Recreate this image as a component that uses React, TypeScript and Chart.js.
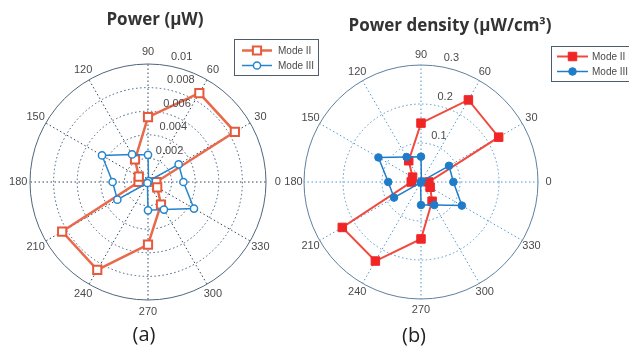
import React, { useEffect, useRef } from "react";
import { Chart, registerables } from "chart.js";

Chart.register(...registerables);

// Angle labels in the radar's clockwise order starting at the top (MATLAB polar: 0° right, CCW)
const ANGLE_LABELS = ["90", "60", "30", "0", "330", "300", "270", "240", "210", "180", "150", "120"];

// Panel (a) – Power (µW), values in the same order as ANGLE_LABELS
const POWER_MODE_II = [0.0055, 0.0087, 0.0085, 0.0007, 0.0009, 0.0022, 0.0053, 0.0086, 0.0084, 0.0008, 0.0009, 0.0022];
const POWER_MODE_III = [0.0023, 0.0001, 0.003, 0.003, 0.0045, 0.0027, 0.0024, 0.0001, 0.003, 0.003, 0.0045, 0.0027];
const POWER_TICKS = [0.002, 0.004, 0.006, 0.008, 0.01];
const POWER_TICK_LABELS = ["0.002", "0.004", "0.006", "0.008", "0.01"];

// Panel (b) – Power density (µW/cm³)
const DENSITY_MODE_II = [0.151, 0.243, 0.23, 0.02, 0.027, 0.057, 0.146, 0.234, 0.233, 0.025, 0.025, 0.063];
const DENSITY_MODE_III = [0.065, 0.002, 0.083, 0.083, 0.121, 0.068, 0.059, 0.002, 0.08, 0.084, 0.126, 0.074];
const DENSITY_TICKS = [0.1, 0.2, 0.3];
const DENSITY_TICK_LABELS = ["0.1", "0.2", "0.3"];

const SERIES_NAMES = ["Mode II", "Mode III"];

type Series = {
  label: string;
  data: number[];
  color: string;
  markerColor: string;
  lineWidth: number;
  style: "rect" | "circle";
  radius: number;
  filled: boolean;
  borderWidth: number;
  order: number;
};

type Panel = {
  max: number;
  step: number;
  ticks: number[];
  tickLabels: string[];
  title: string;
  titleX: number;
  titleY: number;
  caption: string;
  captionX: number;
  captionY: number;
  padding: { left: number; top: number; right: number; bottom: number };
  labelFactor: number;
  ringColor: string;
  spokeColor: string;
  outerColor: string;
  legend: { x: number; y: number; w: number; h: number; rows: number[]; x0: number; x1: number; tx: number };
  series: Series[];
};

const PANELS: Panel[] = [
  {
    max: 0.01,
    step: 0.002,
    ticks: POWER_TICKS,
    tickLabels: POWER_TICK_LABELS,
    title: "Power (\u03bcW)",
    titleX: 155,
    titleY: 20,
    caption: "(a)",
    captionX: 144,
    captionY: 335,
    padding: { left: 30, top: 64, right: 362, bottom: 48 },
    labelFactor: 1.1,
    ringColor: "#3d5c7c",
    spokeColor: "#2c4660",
    outerColor: "#4f667c",
    legend: { x: 234.5, y: 39.5, w: 84, h: 36, rows: [50.5, 65.5], x0: 242, x1: 272, tx: 278 },
    series: [
      { label: SERIES_NAMES[0], data: POWER_MODE_II, color: "#e96a4b", markerColor: "#e65a3c", lineWidth: 2.5, style: "rect", radius: 5.8, filled: false, borderWidth: 2, order: 1 },
      { label: SERIES_NAMES[1], data: POWER_MODE_III, color: "#2685cf", markerColor: "#2685cf", lineWidth: 1.5, style: "circle", radius: 3.6, filled: false, borderWidth: 1.5, order: 0 },
    ],
  },
  {
    max: 0.3,
    step: 0.1,
    ticks: DENSITY_TICKS,
    tickLabels: DENSITY_TICK_LABELS,
    title: "Power density (\u03bcW/cm\u00b3)",
    titleX: 450,
    titleY: 26,
    caption: "(b)",
    captionX: 414,
    captionY: 336,
    padding: { left: 304, top: 65, right: 90, bottom: 49 },
    labelFactor: 1.09,
    ringColor: "#4f97cb",
    spokeColor: "#4f97cb",
    outerColor: "#607f9c",
    legend: { x: 551.5, y: 46.5, w: 84, h: 35, rows: [56.5, 71.5], x0: 557, x1: 588, tx: 592 },
    series: [
      { label: SERIES_NAMES[0], data: DENSITY_MODE_II, color: "#f04a3e", markerColor: "#f02626", lineWidth: 2, style: "rect", radius: 6, filled: true, borderWidth: 1, order: 1 },
      { label: SERIES_NAMES[1], data: DENSITY_MODE_III, color: "#1f7cc9", markerColor: "#1f7cc9", lineWidth: 1.5, style: "circle", radius: 3.8, filled: true, borderWidth: 1, order: 0 },
    ],
  },
];

function drawMarker(ctx: CanvasRenderingContext2D, s: Series, x: number, y: number) {
  ctx.save();
  ctx.lineWidth = s.borderWidth;
  ctx.strokeStyle = s.markerColor;
  ctx.fillStyle = s.filled ? s.markerColor : "#ffffff";
  ctx.beginPath();
  if (s.style === "rect") {
    const h = s.radius / Math.SQRT2;
    ctx.rect(x - h, y - h, 2 * h, 2 * h);
  } else {
    ctx.arc(x, y, s.radius, 0, Math.PI * 2);
  }
  ctx.fill();
  ctx.stroke();
  ctx.restore();
}

function makeDecorPlugin(p: Panel) {
  return {
    id: "polarDecor",
    afterDraw(chart: any) {
      const ctx: CanvasRenderingContext2D = chart.ctx;
      const scale = chart.scales.r;
      const R = scale.drawingArea;
      ctx.save();
      // angle labels
      ctx.font = "11px 'Liberation Sans', Arial, sans-serif";
      ctx.fillStyle = "#4a4a4a";
      ctx.textAlign = "center";
      ctx.textBaseline = "middle";
      ANGLE_LABELS.forEach((lab, i) => {
        const pos = scale.getPointPosition(i, R * p.labelFactor);
        ctx.fillText(lab, pos.x, pos.y);
      });
      // radial tick labels along ~80°
      ctx.textAlign = "left";
      p.ticks.forEach((v, i) => {
        const r = scale.getDistanceFromCenterForValue(v);
        ctx.fillText(p.tickLabels[i], scale.xCenter + 4 + 0.16 * r, scale.yCenter - r - 7.5);
      });
      // title
      ctx.fillStyle = "#333333";
      ctx.textAlign = "center";
      ctx.font = "bold 17px 'Open Sans', sans-serif";
      ctx.fillText(p.title, p.titleX, p.titleY);
      // caption
      ctx.font = "20px 'Open Sans', sans-serif";
      ctx.fillStyle = "#222222";
      ctx.fillText(p.caption, p.captionX, p.captionY);
      // legend
      const L = p.legend;
      ctx.fillStyle = "#ffffff";
      ctx.fillRect(L.x, L.y, L.w, L.h);
      ctx.strokeStyle = "#4e5d6c";
      ctx.lineWidth = 1;
      ctx.strokeRect(L.x, L.y, L.w, L.h);
      ctx.font = "10px 'Liberation Sans', Arial, sans-serif";
      ctx.textAlign = "left";
      p.series.forEach((s, i) => {
        const y = L.rows[i];
        ctx.strokeStyle = s.color;
        ctx.lineWidth = s.lineWidth;
        ctx.beginPath();
        ctx.moveTo(L.x0, y);
        ctx.lineTo(L.x1, y);
        ctx.stroke();
        drawMarker(ctx, s, (L.x0 + L.x1) / 2, y);
        ctx.fillStyle = "#4a4a4a";
        ctx.fillText(s.label, L.tx, y + 0.5);
      });
      ctx.restore();
    },
  };
}

function PolarPanel({ panel }: { panel: Panel }) {
  const ref = useRef<HTMLCanvasElement>(null);
  useEffect(() => {
    if (!ref.current) return;
    const p = panel;
    const nRings = Math.round(p.max / p.step);
    const chart = new Chart(ref.current, {
      type: "radar",
      data: {
        labels: ANGLE_LABELS,
        datasets: p.series.map((s) => ({
          label: s.label,
          data: s.data,
          borderColor: s.color,
          borderWidth: s.lineWidth,
          backgroundColor: "transparent",
          fill: false,
          tension: 0,
          pointStyle: s.style,
          pointRadius: s.radius,
          pointBorderWidth: s.borderWidth,
          pointBorderColor: s.markerColor,
          pointBackgroundColor: s.filled ? s.markerColor : "#ffffff",
          order: s.order,
        })),
      },
      options: {
        animation: false,
        responsive: false,
        devicePixelRatio: 1,
        layout: { padding: p.padding },
        plugins: { legend: { display: false }, tooltip: { enabled: false }, title: { display: false } },
        scales: {
          r: {
            min: 0,
            max: p.max,
            startAngle: 0,
            ticks: { display: false, stepSize: p.step },
            pointLabels: { display: false },
            grid: {
              circular: true,
              color: (c: any) => (c.index >= nRings ? p.outerColor : p.ringColor),
              lineWidth: 1,
            },
            border: {
              dash: (c: any) => (c.index >= nRings ? [] : [1.5, 2.5]),
            },
            angleLines: { color: p.spokeColor, lineWidth: 1, borderDash: [1.5, 2.5] },
          },
        },
      },
      plugins: [makeDecorPlugin(p)],
    } as any);
    return () => chart.destroy();
  }, [panel]);
  return (
    <canvas
      ref={ref}
      width={629}
      height={349}
      style={{ position: "absolute", left: 0, top: 0, width: 629, height: 349 }}
    />
  );
}

export default function App() {
  return (
    <div style={{ position: "fixed", left: 0, top: 0, width: 629, height: 349, background: "#ffffff" }}>
      {PANELS.map((p, i) => (
        <PolarPanel key={i} panel={p} />
      ))}
    </div>
  );
}
